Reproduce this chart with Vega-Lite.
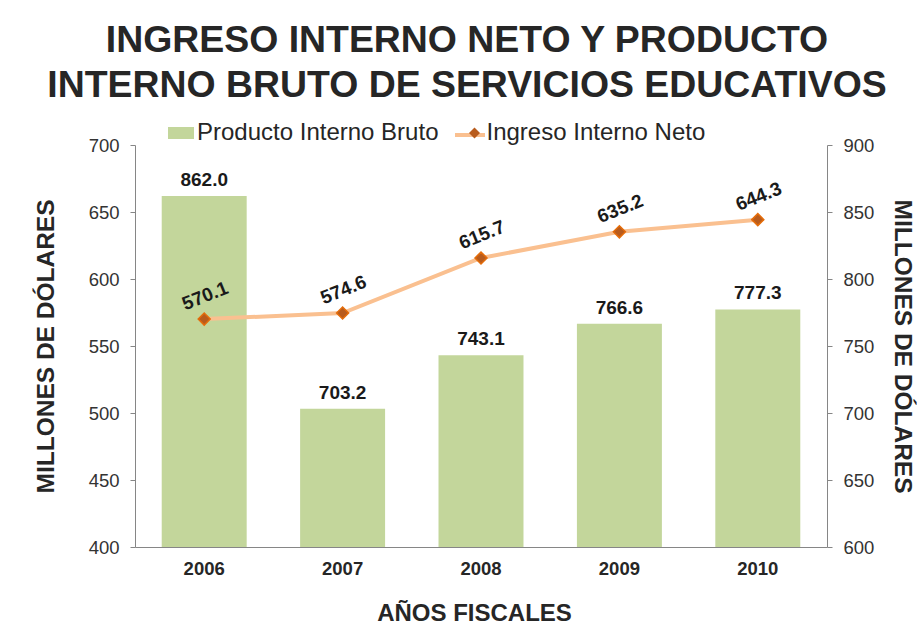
{
  "$schema": "https://vega.github.io/schema/vega-lite/v6.json",
  "width": 692,
  "height": 402,
  "autosize": {"type": "none"},
  "padding": {"left": 135, "top": 145, "right": 90, "bottom": 82},
  "background": "white",
  "title": {
    "text": ["INGRESO INTERNO NETO Y PRODUCTO", "INTERNO BRUTO DE SERVICIOS EDUCATIVOS"],
    "font": "Liberation Sans",
    "fontSize": 37.4,
    "fontWeight": "bold",
    "color": "#262626",
    "lineHeight": 45,
    "anchor": "middle",
    "frame": "group",
    "dx": -14,
    "offset": 14
  },
  "data": {
    "values": [
      {"anio": "2006", "pib": 862.0, "ingreso": 570.1},
      {"anio": "2007", "pib": 703.2, "ingreso": 574.6},
      {"anio": "2008", "pib": 743.1, "ingreso": 615.7},
      {"anio": "2009", "pib": 766.6, "ingreso": 635.2},
      {"anio": "2010", "pib": 777.3, "ingreso": 644.3}
    ]
  },
  "encoding": {
    "x": {
      "field": "anio",
      "type": "nominal",
      "scale": {"paddingInner": 0.386, "paddingOuter": 0.193},
      "axis": {
        "title": "AÑOS FISCALES",
        "labelAngle": 0,
        "labelFontWeight": "bold",
        "labelFontSize": 18.5,
        "labelColor": "#262626",
        "labelPadding": 12,
        "ticks": false,
        "titleFontSize": 24,
        "titleFontWeight": "bold",
        "titleColor": "#262626",
        "titlePadding": 24,
        "titleX": 339
      }
    }
  },
  "layer": [
    {
      "layer": [
        {
          "mark": {"type": "bar", "color": "#C3D69B"},
          "encoding": {
            "y": {
              "field": "pib",
              "type": "quantitative",
              "scale": {"domain": [600, 900], "zero": false, "nice": false},
              "axis": {
                "orient": "right",
                "values": [600, 650, 700, 750, 800, 850, 900],
                "title": "MILLONES DE DÓLARES",
                "titlePadding": 16
              }
            },
            "y2": {"datum": 600},
            "fill": {
              "datum": "Producto Interno Bruto",
              "scale": {"range": ["#C3D69B"]},
              "legend": {
                "orient": "none",
                "legendX": 33,
                "legendY": -25,
                "title": null,
                "symbolType": "M-1,-0.46H1V0.46H-1Z",
                "symbolSize": 676,
                "symbolStrokeWidth": 0,
                "labelFont": "Liberation Sans",
                "labelFontSize": 24,
                "labelColor": "#262626",
                "labelOffset": 3,
                "labelLimit": 400
              }
            }
          }
        },
        {
          "mark": {"type": "text", "fontWeight": "bold", "fontSize": 19, "color": "#1a1a1a", "baseline": "alphabetic", "dy": -10},
          "encoding": {
            "y": {"field": "pib", "type": "quantitative", "scale": {"domain": [600, 900], "zero": false, "nice": false}},
            "text": {"field": "pib", "type": "quantitative", "format": ".1f"}
          }
        }
      ]
    },
    {
      "layer": [
        {
          "mark": {"type": "line", "strokeWidth": 4},
          "encoding": {
            "y": {
              "field": "ingreso",
              "type": "quantitative",
              "scale": {"domain": [400, 700], "zero": false, "nice": false},
              "axis": {
                "orient": "left",
                "values": [400, 450, 500, 550, 600, 650, 700],
                "title": "MILLONES DE DÓLARES",
                "titlePadding": 30
              }
            },
            "stroke": {
              "datum": "linea",
              "scale": {"range": ["#FAC090"]},
              "legend": {
                "orient": "none",
                "legendX": 318,
                "legendY": -27,
                "title": null,
                "symbolType": "M-1,0H1",
                "symbolSize": 900,
                "symbolStrokeWidth": 4,
                "symbolStrokeColor": "#FAC090",
                "labelExpr": "''",
                "labelFontSize": 24,
                "labelOffset": 2
              }
            }
          }
        },
        {
          "mark": {"type": "point", "filled": true, "color": "#B85B1C", "stroke": "#E46C0A", "strokeWidth": 1.5, "size": 144, "opacity": 1},
          "encoding": {
            "y": {"field": "ingreso", "type": "quantitative", "scale": {"domain": [400, 700], "zero": false, "nice": false}},
            "shape": {
              "datum": "Ingreso Interno Neto",
              "scale": {"range": ["diamond"]},
              "legend": {
                "orient": "none",
                "legendX": 327.5,
                "legendY": -24,
                "title": null,
                "symbolSize": 121,
                "symbolFillColor": "#B85B1C",
                "symbolStrokeColor": "#E46C0A",
                "symbolStrokeWidth": 1.2,
                "symbolOpacity": 1,
                "labelFont": "Liberation Sans",
                "labelFontSize": 24,
                "labelColor": "#262626",
                "labelOffset": 0,
                "labelLimit": 400
              }
            }
          }
        },
        {
          "mark": {"type": "text", "fontWeight": "bold", "fontSize": 19, "color": "#1a1a1a", "angle": 338, "align": "center", "baseline": "middle", "dx": 9.5, "dy": -21},
          "encoding": {
            "y": {"field": "ingreso", "type": "quantitative", "scale": {"domain": [400, 700], "zero": false, "nice": false}},
            "text": {"field": "ingreso", "type": "quantitative", "format": ".1f"}
          }
        }
      ]
    }
  ],
  "resolve": {"scale": {"y": "independent"}},
  "config": {
    "font": "Liberation Sans",
    "view": {"stroke": null},
    "axis": {
      "grid": false,
      "domainColor": "#868686",
      "tickColor": "#868686",
      "tickSize": 5,
      "labelFont": "Liberation Sans",
      "labelFontSize": 18.5,
      "labelColor": "#333333",
      "labelPadding": 11,
      "titleFont": "Liberation Sans",
      "titleFontSize": 24.5,
      "titleFontWeight": "bold",
      "titleColor": "#262626"
    }
  }
}
